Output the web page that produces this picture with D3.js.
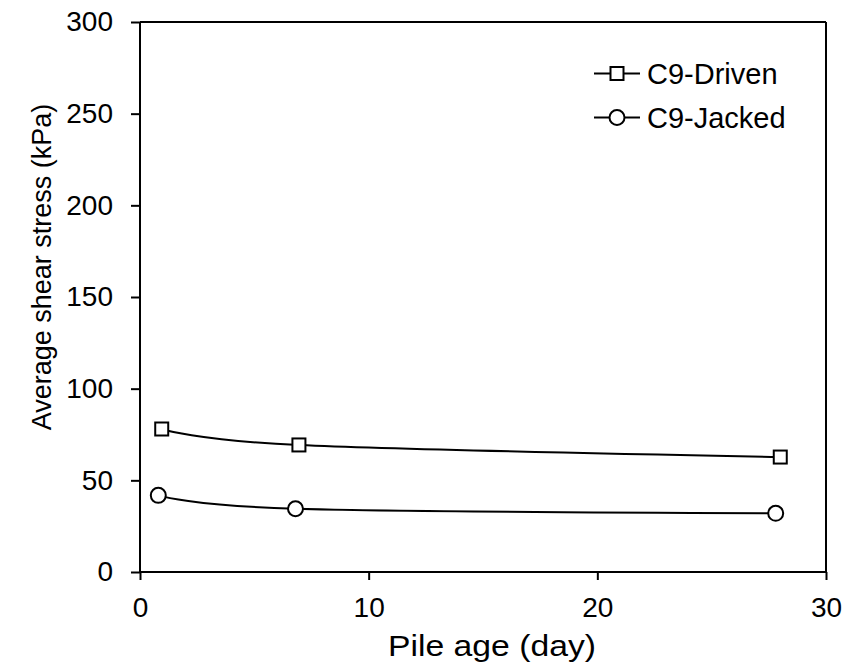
<!DOCTYPE html>
<html>
<head>
<meta charset="utf-8">
<script src="https://cdn.jsdelivr.net/npm/d3@7"></script>
<style>
  html, body { margin: 0; padding: 0; background: #fff; }
  svg { display: block; font-family: "Liberation Sans", Arial, sans-serif; }
</style>
</head>
<body>
<svg id="chart" width="846" height="664"></svg>
<script>
// Pile age (days) and average shear stress (kPa) for each pile
const drivenAge = [0.95, 6.95, 28.0];
const drivenStress = [78.0, 69.3, 62.7];
const jackedAge = [0.8, 6.8, 27.8];
const jackedStress = [41.8, 34.5, 32.0];

const xTicks = [0, 10, 20, 30];
const yTicks = [0, 50, 100, 150, 200, 250, 300];

const seriesNames = ["C9-Driven", "C9-Jacked"];
const xTitle = "Pile age (day)";
const yTitle = "Average shear stress (kPa)";

const svg = d3.select("#chart");
const m = { left: 140, top: 22, right: 826, bottom: 572 };

const x = d3.scaleLinear().domain([0, 30]).range([m.left, m.right]);
const y = d3.scaleLinear().domain([0, 300]).range([m.bottom, m.top]);

const fontSize = 28;

// frame (top and right edges of plot area)
svg.append("line").attr("x1", m.left).attr("x2", m.right).attr("y1", m.top).attr("y2", m.top)
  .attr("stroke", "#000").attr("stroke-width", 2);
svg.append("line").attr("x1", m.right).attr("x2", m.right).attr("y1", m.top).attr("y2", m.bottom)
  .attr("stroke", "#000").attr("stroke-width", 2);

// axes
const xAxis = svg.append("g").attr("transform", `translate(0,${m.bottom})`)
  .call(d3.axisBottom(x).tickValues(xTicks).tickSize(8).tickPadding(17).tickFormat(d3.format("d")));
const yAxis = svg.append("g").attr("transform", `translate(${m.left},0)`)
  .call(d3.axisLeft(y).tickValues(yTicks).tickSize(9).tickPadding(18).tickFormat(d3.format("d")));

[xAxis, yAxis].forEach(g => {
  g.select(".domain").attr("stroke", "#000").attr("stroke-width", 2);
  g.selectAll(".tick line").attr("stroke", "#000").attr("stroke-width", 2);
  g.selectAll(".tick text").attr("fill", "#000")
    .style("font-family", '"Liberation Sans", Arial, sans-serif')
    .style("font-size", fontSize + "px");
});
xAxis.select(".domain").attr("d", `M${m.left},0H${m.right}`);
yAxis.select(".domain").attr("d", `M0,${m.top}V${m.bottom}`);

// axis titles
svg.append("text").attr("x", 492).attr("y", 656).attr("text-anchor", "middle")
  .attr("textLength", 208).attr("lengthAdjust", "spacingAndGlyphs")
  .style("font-size", "29px").text(xTitle);
svg.append("text").attr("transform", "translate(51,267) rotate(-90)").attr("text-anchor", "middle")
  .style("font-size", "27px").text(yTitle);

// smoothed series lines
const line = d3.line().x(d => x(d[0])).y(d => y(d[1])).curve(d3.curveCatmullRom.alpha(0));
const driven = drivenAge.map((a, i) => [a, drivenStress[i]]);
const jacked = jackedAge.map((a, i) => [a, jackedStress[i]]);

[driven, jacked].forEach(data => {
  svg.append("path").datum(data).attr("d", line)
    .attr("fill", "none").attr("stroke", "#000").attr("stroke-width", 2);
});

const sq = 13, r = 7.5;
function square(g, cx, cy) {
  g.append("rect").attr("x", cx - sq / 2).attr("y", cy - sq / 2).attr("width", sq).attr("height", sq)
    .attr("fill", "#fff").attr("stroke", "#000").attr("stroke-width", 2);
}
function circle(g, cx, cy) {
  g.append("circle").attr("cx", cx).attr("cy", cy).attr("r", r)
    .attr("fill", "#fff").attr("stroke", "#000").attr("stroke-width", 2);
}

driven.forEach(d => square(svg, x(d[0]), y(d[1])));
jacked.forEach(d => circle(svg, x(d[0]), y(d[1])));

// legend
const legend = svg.append("g");
const legendRows = [
  { name: seriesNames[0], marker: square, cy: 73.5 },
  { name: seriesNames[1], marker: circle, cy: 117.5 }
];
legendRows.forEach(row => {
  legend.append("line").attr("x1", 594).attr("x2", 640).attr("y1", row.cy).attr("y2", row.cy)
    .attr("stroke", "#000").attr("stroke-width", 2);
  row.marker(legend, 617, row.cy);
  legend.append("text").attr("x", 647).attr("y", row.cy + 10)
    .style("font-size", "29px").text(row.name);
});
</script>
</body>
</html>
